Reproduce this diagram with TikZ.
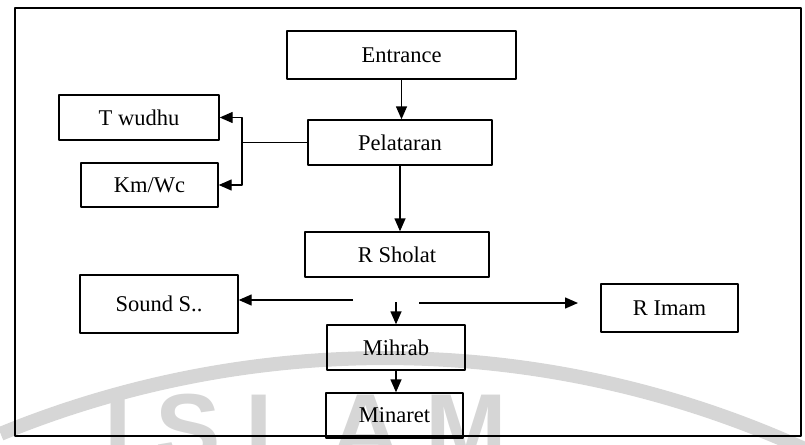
\documentclass[tikz,border=0pt]{standalone}
\usepackage{fontspec}
\setmainfont{Liberation Serif}
\newfontfamily\wmfont[LetterSpace=25]{Liberation Sans}
\usetikzlibrary{arrows.meta}
\definecolor{wmgray}{HTML}{D6D6D6}

\begin{document}
\begin{tikzpicture}[
  x=1pt,
  y=-1pt,
  line join=round,
  room/.style={draw,line width=1.4pt,inner sep=0pt,font=\fontsize{22.5}{26}\selectfont},
  link/.style={draw,line width=1.4pt},
  arrow/.style={draw,line width=1.4pt,-{Triangle[length=13pt,width=11pt]}}
]
  % Match the scanned page before anything is drawn.
  \useasboundingbox (0,0) rectangle (805,444);

  % Faint watermark of the scan, kept behind the diagram.
  \coordinate (wmcenter) at (385,1371);
  \draw[wmgray,line width=14pt] (wmcenter) ++(247.7:1013) arc[start angle=247.7,end angle=294.5,radius=1013];
  \node[text=wmgray,font=\wmfont\bfseries\fontsize{98}{98}\selectfont,anchor=base west,inner sep=0pt] (mark) at (104,462) {ISLAM};

  % Outer frame.
  \draw[line width=1.3pt] (15,8) rectangle (801,436);

  % Rooms along the main axis.
  \node[room,minimum width=229pt,minimum height=48pt] (entrance) at (401.5,55.0) {Entrance};
  \node[room,minimum width=184pt,minimum height=45pt] (pelataran) at (400.0,142.5) {Pelataran};
  \node[room,minimum width=184pt,minimum height=45pt] (rsholat) at (397.0,254.5) {R Sholat};
  \node[room,minimum width=138pt,minimum height=45pt] (mihrab) at (396.0,347.5) {Mihrab};
  \node[room,minimum width=137pt,minimum height=45pt] (minaret) at (394.5,415.5) {Minaret};

  % Side rooms.
  \node[room,minimum width=160pt,minimum height=45pt] (twudhu) at (139.0,117.5) {T wudhu};
  \node[room,minimum width=137pt,minimum height=44pt] (kmwc) at (149.5,185.0) {Km/Wc};
  \node[room,minimum width=158pt,minimum height=58pt] (sound) at (159.0,304.0) {Sound S..};
  \node[room,minimum width=137pt,minimum height=48pt] (rimam) at (669.5,308.0) {R Imam};

  % Loose ends of the split below R Sholat.
  \coordinate (split) at (242,142.5);
  \coordinate (soundfrom) at (353,300);
  \coordinate (imamfrom) at (419,303);
  \coordinate (imamto) at (578,303);
  \coordinate (mihrabfrom) at (396,302);

  % Main flow.
  \draw[arrow] (entrance.south) -- (entrance.south |- pelataran.north);
  \draw[arrow] (pelataran.south) -- (pelataran.south |- rsholat.north);
  \draw[arrow] (mihrabfrom) -- (mihrabfrom |- mihrab.north);
  \draw[arrow] (mihrab.south) -- (mihrab.south |- minaret.north);

  % Branch to the washing rooms.
  \draw[link] (pelataran.west) -- (split);
  \draw[arrow] (split) |- (twudhu.east);
  \draw[arrow] (split) |- (kmwc.east);

  % Branch to sound system and imam room.
  \draw[arrow] (soundfrom) -- (soundfrom -| sound.east);
  \draw[arrow] (imamfrom) -- (imamto);
\end{tikzpicture}
\end{document}
